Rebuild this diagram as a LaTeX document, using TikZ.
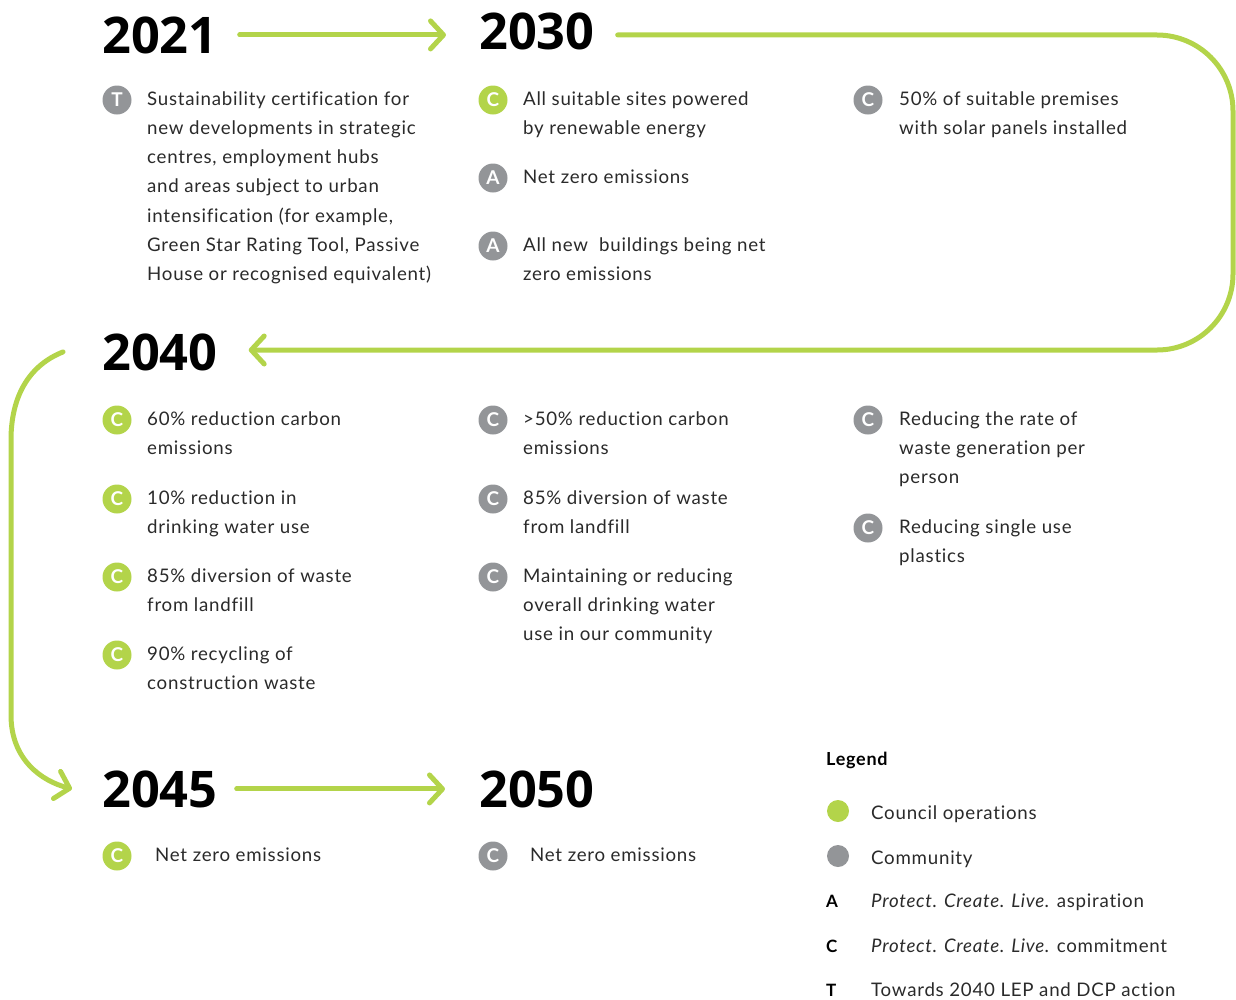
\documentclass[tikz,border=0pt]{standalone}
\usepackage{fontspec}
\setmainfont{Lato}[LetterSpace=4,Ligatures=NoCommon]
\newfontfamily\yearfont{Open Sans}
\newfontfamily\badgefont{Lato}
\usetikzlibrary{arrows.meta}
\definecolor{lime}{HTML}{B3D44A}
\definecolor{cgray}{HTML}{939598}
\definecolor{txt}{HTML}{2A2A2A}
\begin{document}
\begin{tikzpicture}[x=1pt,y=-1pt,
 flow/.style={draw=lime, line width=5pt, line cap=round, line join=round},
 tipd/.style={-{Straight Barb[length=13pt,width=28pt,line cap=round,line join=round]}},
 year/.style={anchor=base west, inner sep=0, font=\yearfont\bfseries\fontsize{50.5}{50}\selectfont, text=black},
 badge/.style={circle, minimum size=29pt, inner sep=0, text=white, font=\badgefont\bfseries\fontsize{19}{19}\selectfont},
 gb/.style={badge, fill=lime}, cb/.style={badge, fill=cgray},
 item/.style={anchor=base west, inner sep=0, text=txt, font=\fontsize{18.7}{29.3}\selectfont},
 legdot/.style={circle, minimum size=22pt, inner sep=0},
 legkey/.style={anchor=base west, inner sep=0, text=black, font=\badgefont\bfseries\fontsize{17}{17}\selectfont},
]
\useasboundingbox (0,0) rectangle (1236,999);
\newcommand{\itm}[1]{\parbox[t]{360pt}{\raggedright #1}}
% years
\node[year] (y2021) at (102,53) {2021};
\node[year] (y2030) at (479,49) {2030};
\node[year] (y2040) at (102,370) {2040};
\node[year] (y2045) at (102,807) {2045};
\node[year] (y2050) at (479,807) {2050};
% connectors
\draw[flow,tipd] ([xshift=22pt]y2021.east) -- ([xshift=-33pt]y2021.east -| y2030.west);
\coordinate (r1) at (1233,35);
\coordinate (r2) at (1233,350);
\draw[flow,tipd,rounded corners=76pt] ([xshift=23pt]y2030.east |- y2021.east) -- (r1) -- (r2) -- ([xshift=31pt]y2040.east |- r2);
\coordinate (lc1) at (11,440);
\coordinate (lc2) at (11,715);
\draw[flow,tipd] ([xshift=-39pt]y2040.west) .. controls (30,365) and (11,395) .. (lc1) -- (lc2) .. controls (11,760) and (42,781) .. ([xshift=-30pt]y2045.west);
\draw[flow,tipd] ([xshift=19pt]y2045.east) -- ([xshift=-34pt]y2045.east -| y2050.west);
% 2021
\node[cb] (b1) at (117,100) {T};
\node[item] (t1) at (147,105) {\itm{Sustainability certification for\\new developments in strategic\\centres, employment hubs\\and areas subject to urban\\intensification (for example,\\Green Star Rating Tool, Passive\\House or recognised equivalent)}};
% 2030
\node[gb] (b2) at (493,100) {C};
\node[item] (t2) at (523,105) {\itm{All suitable sites powered\\by renewable energy}};
\node[cb] (b3) at (493,178) {A};
\node[item] (t3) at (523,183) {\itm{Net zero emissions}};
\node[cb] (b4) at (493,246) {A};
\node[item] (t4) at (523,251) {\itm{All new\ \ buildings being net\\zero emissions}};
\node[cb] (b5) at (868,100) {C};
\node[item] (t5) at (899,105) {\itm{50\% of suitable premises\\with solar panels installed}};
% 2040
\node[gb] (b6) at (117,420) {C};
\node[item] (t6) at (147,425) {\itm{60\% reduction carbon\\emissions}};
\node[gb] (b7) at (117,499) {C};
\node[item] (t7) at (147,504) {\itm{10\% reduction in\\drinking water use}};
\node[gb] (b8) at (117,577) {C};
\node[item] (t8) at (147,582) {\itm{85\% diversion of waste\\from landfill}};
\node[gb] (b9) at (117,655) {C};
\node[item] (t9) at (147,660) {\itm{90\% recycling of\\construction waste}};
\node[cb] (b10) at (493,420) {C};
\node[item] (t10) at (523,425) {\itm{>50\% reduction carbon\\emissions}};
\node[cb] (b11) at (493,499) {C};
\node[item] (t11) at (523,504) {\itm{85\% diversion of waste\\from landfill}};
\node[cb] (b12) at (493,577) {C};
\node[item] (t12) at (523,582) {\itm{Maintaining or reducing\\overall drinking water\\use in our community}};
\node[cb] (b13) at (868,420) {C};
\node[item] (t13) at (899,425) {\itm{Reducing the rate of\\waste generation per\\person}};
\node[cb] (b14) at (868,528) {C};
\node[item] (t14) at (899,533) {\itm{Reducing single use\\plastics}};
% 2045 / 2050
\node[gb] (b15) at (117,856) {C};
\node[item] (t15) at (155,861) {\itm{Net zero emissions}};
\node[cb] (b16) at (493,856) {C};
\node[item] (t16) at (530,861) {\itm{Net zero emissions}};
% legend
\node[anchor=base west, inner sep=0, text=black, font=\bfseries\fontsize{18}{18}\selectfont] (leg) at (826,765) {Legend};
\node[legdot, fill=lime] (d1) at (838,811) {};
\node[item] (l1) at (871,819) {Council operations};
\node[legdot, fill=cgray] (d2) at (838,856) {};
\node[item] (l2) at (871,864) {Community};
\node[legkey] (ka) at (826,907) {A};
\node[item] (l3) at (871,907) {{\itshape Protect. Create. Live.} aspiration};
\node[legkey] (kc) at (826,952) {C};
\node[item] (l4) at (871,952) {{\itshape Protect. Create. Live.} commitment};
\node[legkey] (kt) at (826,996) {T};
\node[item] (l5) at (871,996) {Towards 2040 LEP and DCP action};
\end{tikzpicture}
\end{document}
